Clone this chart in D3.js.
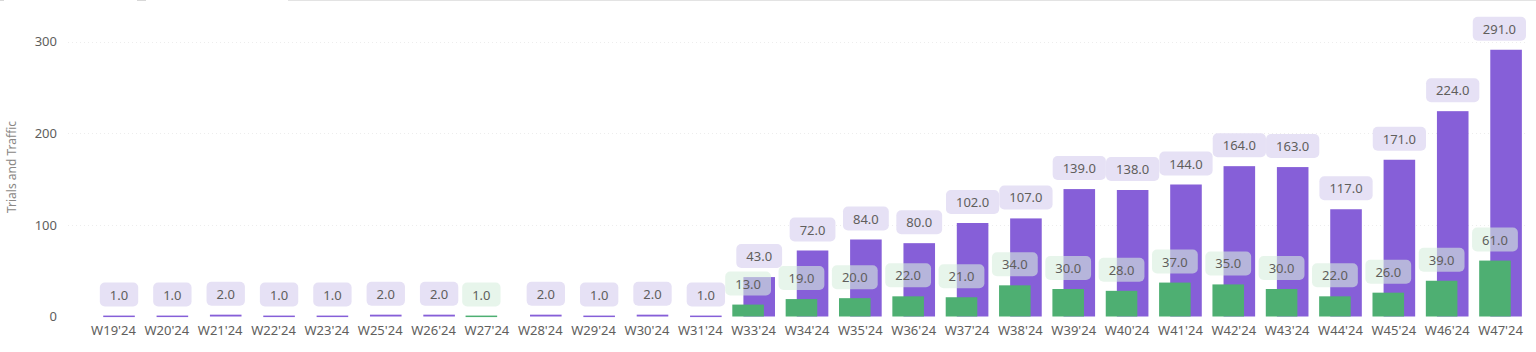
<!DOCTYPE html>
<html>
<head>
<meta charset="utf-8">
<script src="https://cdn.jsdelivr.net/npm/d3@7"></script>
<style>
  html, body { margin: 0; padding: 0; background: #fff; }
  svg { display: block; font-family: "Noto Sans", "Open Sans", sans-serif; }
</style>
</head>
<body>
<svg id="chart" width="1536" height="352"></svg>
<script>
// week labels along the x axis
var weeks = ["W19'24","W20'24","W21'24","W22'24","W23'24","W25'24","W26'24","W27'24",
             "W28'24","W29'24","W30'24","W31'24","W33'24","W34'24","W35'24","W36'24",
             "W37'24","W38'24","W39'24","W40'24","W41'24","W42'24","W43'24","W44'24",
             "W45'24","W46'24","W47'24"];

// traffic (purple) and trials (green); null = no value
var traffic = [1,1,2,1,1,2,2,null,2,1,2,1,43,72,84,80,102,107,139,138,144,164,163,117,171,224,291];
var trials  = [null,null,null,null,null,null,null,1,null,null,null,null,13,19,20,22,21,34,30,28,37,35,30,22,26,39,61];

var yTicks = [0, 100, 200, 300];
var yTitle = "Trials and Traffic";

var colors = {
    traffic: "#865fd8",
    trials: "#4eaf72",
    trafficBox: "#e6e1f5",
    trialsBox: "rgba(215,238,222,0.6)",
    text: "#605e5c"
};

var svg = d3.select("#chart");

//top strip artefacts from the source screenshot
svg.append("line").attr("x1", 288).attr("x2", 1536).attr("y1", 0.5).attr("y2", 0.5)
   .attr("stroke", "#e3e3e3");
svg.append("line").attr("x1", 137).attr("x2", 146).attr("y1", 0.5).attr("y2", 0.5)
   .attr("stroke", "#d8d8d8");
svg.append("line").attr("x1", 0).attr("x2", 4).attr("y1", 0.5).attr("y2", 0.5)
   .attr("stroke", "#d8d8d8");

var x = d3.scaleBand()
    .domain(weeks)
    .range([86.8, 1527.2])
    .paddingInner(0.2)
    .paddingOuter(0.1);

var y = d3.scaleLinear()
    .domain([0, 300])
    .range([316.5, 41.5]);

var barW = x.bandwidth() * 0.74;

// gridlines
svg.append("g")
  .selectAll("line")
  .data(yTicks.filter(function(d){ return d > 0; }))
  .enter().append("line")
    .attr("x1", 68).attr("x2", 1527)
    .attr("y1", function(d){ return Math.round(y(d)) + 0.5; })
    .attr("y2", function(d){ return Math.round(y(d)) + 0.5; })
    .attr("stroke", "#ededed")
    .attr("stroke-dasharray", "1,3");

// y axis
var yAxis = svg.append("g")
    .attr("transform", "translate(62,0)")
    .call(d3.axisLeft(y).tickValues(yTicks).tickSize(0).tickPadding(5));
yAxis.select(".domain").remove();
yAxis.selectAll("text")
    .attr("fill", colors.text)
    .style("font-size", "13px")
    .style("font-family", "\"Noto Sans\", sans-serif");

svg.append("text")
    .attr("transform", "translate(16,167) rotate(-90)")
    .attr("text-anchor", "middle")
    .attr("fill", "#8a8886")
    .style("font-size", "12px")
    .text(yTitle);

// x axis
var xAxis = svg.append("g")
    .attr("transform", "translate(0,322)")
    .call(d3.axisBottom(x).tickSize(0).tickPadding(4));
xAxis.select(".domain").remove();
xAxis.selectAll("text")
    .attr("fill", colors.text)
    .style("font-size", "13px")
    .style("font-family", "\"Noto Sans\", sans-serif");

var rows = weeks.map(function(w, i){
    return { week: w, traffic: traffic[i], trials: trials[i] };
});

// purple bars (behind)
svg.append("g")
  .selectAll("rect")
  .data(rows.filter(function(d){ return d.traffic != null; }))
  .enter().append("rect")
    .attr("x", function(d){ return x(d.week) + x.bandwidth() - barW; })
    .attr("y", function(d){ return y(d.traffic); })
    .attr("width", barW)
    .attr("height", function(d){ return Math.max(1.5, y(0) - y(d.traffic)); })
    .attr("fill", colors.traffic);

// green bars (front)
svg.append("g")
  .selectAll("rect")
  .data(rows.filter(function(d){ return d.trials != null; }))
  .enter().append("rect")
    .attr("x", function(d){ return x(d.week); })
    .attr("y", function(d){ return y(d.trials); })
    .attr("width", barW)
    .attr("height", function(d){ return Math.max(1.5, y(0) - y(d.trials)); })
    .attr("fill", colors.trials);

// data labels with rounded boxes
var addLabels = function(key, cx, boxColor){
    var g = svg.append("g")
      .selectAll("g")
      .data(rows.filter(function(d){ return d[key] != null; }))
      .enter().append("g");

    g.each(function(d){
        var node = d3.select(this);
        var rect = node.append("rect");
        var txt = node.append("text")
            .attr("text-anchor", "middle")
            .attr("dominant-baseline", "central")
            .attr("fill", colors.text)
            .style("font-size", "13px")
            .text(d[key].toFixed(1));
        var w = txt.node().getComputedTextLength() + 20;
        var h = 24;
        var c = cx(d);
        if (c + w/2 > 1526) c = 1526 - w/2;
        var bottom = y(d[key]) - 9;
        rect.attr("x", c - w/2).attr("y", bottom - h)
            .attr("width", w).attr("height", h)
            .attr("rx", 5).attr("ry", 5)
            .attr("fill", boxColor);
        txt.attr("x", c).attr("y", bottom - h/2);
    });
};

addLabels("traffic", function(d){ return x(d.week) + x.bandwidth() - barW/2; }, colors.trafficBox);
addLabels("trials", function(d){ return x(d.week) + barW/2; }, colors.trialsBox);
</script>
</body>
</html>
